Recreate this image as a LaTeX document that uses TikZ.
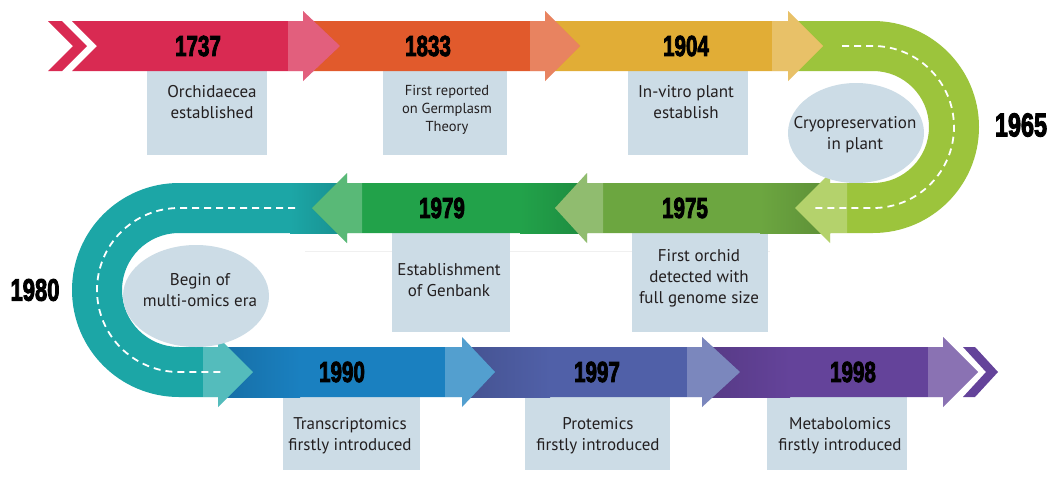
\documentclass[tikz,border=0pt]{standalone}
\usepackage{fontspec}
\usepackage{graphicx}
\setmainfont{PT Sans}
\newfontfamily\yrfont[BoldFeatures={FakeBold=3.5}]{Liberation Sans}
\definecolor{cRed}{HTML}{D92A52}
\definecolor{cOrange}{HTML}{E15A2C}
\definecolor{cYellow}{HTML}{E1AD36}
\definecolor{cLime}{HTML}{9CC43C}
\definecolor{cMid}{HTML}{6CA640}
\definecolor{cGreen}{HTML}{22A24A}
\definecolor{cTeal}{HTML}{1CA6A6}
\definecolor{cBlue}{HTML}{1A80C0}
\definecolor{cIndigo}{HTML}{5060A8}
\definecolor{cPurple}{HTML}{64439A}
\definecolor{boxc}{HTML}{CCDCE6}
\definecolor{txt}{HTML}{231F20}
\newcommand{\yr}[2][29]{\scalebox{0.71}[1]{\yrfont\fontsize{#1}{#1}\selectfont\bfseries #2}}
% arrow: #1 start x, #2 light start x, #3 head base x, #4 tip x, #5 centre y, #6 colour
\newcommand{\SegArr}[6]{%
  \fill[#6] (#1,#5-25) -- (#3,#5-25) -- (#3,#5-35) -- (#4,#5) -- (#3,#5+35) -- (#3,#5+25) -- (#1,#5+25) -- cycle;
  \fill[lightover] (#2,#5-25) -- (#3,#5-25) -- (#3,#5-35) -- (#4,#5) -- (#3,#5+35) -- (#3,#5+25) -- (#2,#5+25) -- cycle;}
% shadow: #1 x from, #2 x to, #3 centre y, #4 colour
\newcommand{\SegShade}[4]{%
  \shade[left color=#4!86!black, right color=#4] (#1,#3-25) rectangle (#2,#3+25);}
\newcommand{\SegShadeL}[4]{%
  \shade[left color=#4, right color=#4!86!black] (#1,#3-25) rectangle (#2,#3+25);}
\tikzset{
  lightover/.style={white, opacity=0.25},
  infobox/.style={fill=boxc},
  body/.style={text=txt, align=center, font=\fontsize{17}{21}\selectfont, inner sep=0pt},
  smallbody/.style={text=txt, align=center, font=\fontsize{14.5}{18}\selectfont, inner sep=0pt},
  yearlbl/.style={inner sep=0pt, text=black},
  dashline/.style={white, line width=1.8pt, dash pattern=on 7pt off 5pt},
}
\begin{document}
\begin{tikzpicture}[x=1pt,y=-1pt]
\useasboundingbox (0,0) rectangle (1055,477);
\fill[white] (0,0) rectangle (1055,477);
% faint rule
\draw[gray!12, line width=1pt] (305,251) -- (770,251);
% boxes
\fill[infobox] (147,71) rectangle (267,155);
\fill[infobox] (383,71) rectangle (507,155);
\fill[infobox] (628,71) rectangle (748,155);
\fill[infobox] (392,233) rectangle (510,332);
\fill[infobox] (632,233) rectangle (768,332);
\fill[infobox] (283,397) rectangle (420,470);
\fill[infobox] (525,397) rectangle (670,470);
\fill[infobox] (767,397) rectangle (907,470);
% end chevron
\fill[cPurple] (963,347) -- (975,347) -- (998,372) -- (975,397) -- (963,397) -- (986,372) -- cycle;
% bottom row
\SegArr{702}{928}{943}{978}{372}{cPurple}
\SegShade{702}{790}{372}{cPurple}
\SegArr{462}{687}{702}{740}{372}{cIndigo}
\SegShade{462}{550}{372}{cIndigo}
\SegArr{218}{445}{462}{495}{372}{cBlue}
\SegShade{218}{300}{372}{cBlue}
% teal U
\fill[cTeal] (347,183) -- (179,183) arc[start angle=-90, end angle=-270, radius=107]
  -- (218,397) -- (218,407) -- (253,372) -- (218,337) -- (218,347) -- (179,347)
  arc[start angle=90, end angle=270, radius=57] -- (347,233) -- cycle;
\SegShadeL{290}{347}{208}{cTeal}
\fill[lightover] (203,347) -- (218,347) -- (218,337) -- (253,372) -- (218,407) -- (218,397) -- (203,397) -- cycle;
\draw[dashline] (295,208) -- (179,208) arc[start angle=-90, end angle=-270, radius=82] -- (223,372);
% middle row
\SegArr{587}{362}{347}{312}{208}{cGreen}
\SegShadeL{520}{587}{208}{cGreen}
\SegArr{830}{603}{587}{555}{208}{cMid}
\SegShadeL{760}{830}{208}{cMid}
% lime U
\fill[cLime] (788,21) -- (873,21) arc[start angle=-90, end angle=90, radius=106]
  -- (830,233) -- (830,243) -- (795,208) -- (830,173) -- (830,183) -- (873,183)
  arc[start angle=90, end angle=-90, radius=56] -- (788,71) -- cycle;
\fill[lightover] (847,183) -- (830,183) -- (830,173) -- (795,208) -- (830,243) -- (830,233) -- (847,233) -- cycle;
\draw[dashline] (842,46) -- (873,46) arc[start angle=-90, end angle=90, radius=81] -- (813,208);
% top row
\SegArr{545}{772}{788}{823}{46}{cYellow}
\SegArr{303}{530}{545}{580}{46}{cOrange}
\fill[cRed] (72,21) -- (303,21) -- (303,11) -- (340,46) -- (303,81) -- (303,71) -- (72,71) -- (97,46) -- cycle;
\fill[lightover] (288,21) -- (303,21) -- (303,11) -- (340,46) -- (303,81) -- (303,71) -- (288,71) -- cycle;
\fill[cRed] (48,21) -- (62,21) -- (87,46) -- (62,71) -- (48,71) -- (73,46) -- cycle;
% ellipses
\fill[boxc] (856,133) ellipse [x radius=68, y radius=50];
\fill[boxc] (196,296) ellipse [x radius=73, y radius=51];
% years
\node[yearlbl] (y1737) at (198,46) {\yr{1737}};
\node[yearlbl] (y1833) at (428,46) {\yr{1833}};
\node[yearlbl] (y1904) at (686,46) {\yr{1904}};
\node[yearlbl] (y1965) at (1021,125) {\yr[33]{1965}};
\node[yearlbl] (y1975) at (685,208) {\yr{1975}};
\node[yearlbl] (y1979) at (442,208) {\yr{1979}};
\node[yearlbl] (y1980) at (35,290) {\yr[31]{1980}};
\node[yearlbl] (y1990) at (342,372) {\yr{1990}};
\node[yearlbl] (y1997) at (597,372) {\yr{1997}};
\node[yearlbl] (y1998) at (853,372) {\yr{1998}};
% texts
\node[body] (t1737) at (212,102) {Orchidaecea\\established};
\node[smallbody] (t1833) at (447,110) {First reported\\on Germplasm\\Theory};
\node[body] (t1904) at (686,102) {In-vitro plant\\establish};
\node[body] (t1965) at (855,135) {Cryopreservation\\in plant};
\node[body] (t1975) at (699,278) {First orchid\\detected with\\full genome size};
\node[body] (t1979) at (449,280) {Establishment\\of Genbank};
\node[body] (t1980) at (200,290) {Begin of\\multi-omics era};
\node[body] (t1990) at (350,436) {Transcriptomics\\firstly introduced};
\node[body] (t1997) at (598,436) {Protemics\\firstly introduced};
\node[body] (t1998) at (840,436) {Metabolomics\\firstly introduced};
\end{tikzpicture}
\end{document}
